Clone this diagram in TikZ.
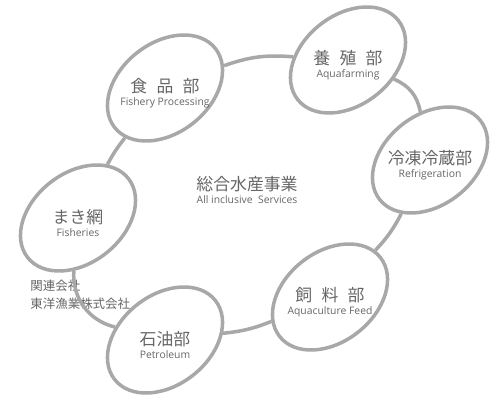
\documentclass[tikz,border=0pt]{standalone}
\usepackage{fontspec}
\setmainfont{Open Sans}
\newfontfamily\jpfont{Noto Sans CJK JP}
\usepackage{tikz}
\usetikzlibrary{shapes,positioning}
\definecolor{ringgray}{HTML}{A8A8A8}
\definecolor{textgray}{HTML}{666666}
\newcommand\Jp[1]{{\jpfont\fontsize{9.6}{11}\selectfont #1}}
\newcommand\En[1]{{\fontsize{5.9}{7}\selectfont #1}}
\newcommand\Gap{\hspace{0.55em}}

\begin{document}
\begin{tikzpicture}[on grid,
    dept/.style={draw=ringgray, line width=2pt, ellipse, minimum width=2.56cm, minimum height=1.8cm, rotate=38},
    deptname/.style={align=center, text=textgray, yshift=-1mm},
    link/.style={draw=ringgray, line width=2pt}]
      \useasboundingbox (-4.94,-4.38) rectangle (5.06,3.8);
      \node[align=center, text=textgray] (hub) at (0,0) {\Jp{総合水産事業}\\[-4.5pt]\En{All inclusive\ \ Services}};

      \node[dept, above left=2.04cm and 1.64cm of hub] (shokuhin) {};
      \node[dept, above right=2.6cm and 2.02cm of hub] (yoshoku) {};
      \node[dept, above right=0.6cm and 3.66cm of hub] (reito) {};
      \node[dept, below right=2.14cm and 1.66cm of hub] (shiryo) {};
      \node[dept, below left=3.0cm and 1.64cm of hub] (sekiyu) {};
      \node[dept, below left=0.56cm and 3.38cm of hub] (makiami) {};

      \node[deptname] (shokuhin-t) at (shokuhin) {\Jp{食\Gap 品\Gap 部}\\[-4.5pt]\En{Fishery Processing}};
      \node[deptname] (yoshoku-t) at (yoshoku) {\Jp{養\Gap 殖\Gap 部}\\[-4.5pt]\En{Aquafarming}};
      \node[deptname] (reito-t) at (reito) {\Jp{冷凍冷蔵部}\\[-4.5pt]\En{Refrigeration}};
      \node[deptname] (shiryo-t) at (shiryo) {\Jp{飼\Gap 料\Gap 部}\\[-4.5pt]\En{Aquaculture Feed}};
      \node[deptname] (sekiyu-t) at (sekiyu) {\Jp{石油部}\\[-4.5pt]\En{Petroleum}};
      \node[deptname] (makiami-t) at (makiami) {\Jp{まき網}\\[-4.5pt]\En{Fisheries}};

      \node[anchor=north west, align=left, text=textgray, inner sep=0pt,
        font=\jpfont\fontsize{7.1}{10.2}\selectfont] (kanren) at (-4.34,-1.8)
        {関連会社\\東洋漁業株式会社};

      \draw[link] (shokuhin) to[bend left=12] (yoshoku);
      \draw[link] (yoshoku) to[bend left=28] (reito);
      \draw[link] (reito) to[bend left=8] (shiryo);
      \draw[link] (shiryo) to[bend left=8] (sekiyu);
      \draw[link] (sekiyu) to[bend left=40] (makiami);
      \draw[link] (makiami) to[bend left=5] (shokuhin);
    \end{tikzpicture}
\end{document}
